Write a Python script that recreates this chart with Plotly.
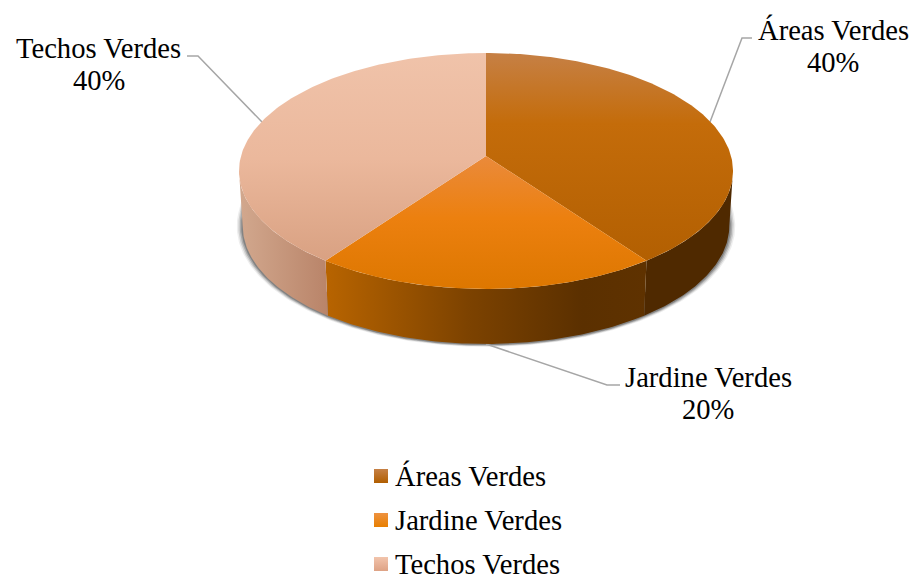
import numpy as np
import plotly.graph_objects as go

categories = ["Áreas Verdes", "Jardine Verdes", "Techos Verdes"]
values = [40, 20, 40]

# chart geometry (screen pixels), used by the projection below
CX, CY = 486, 156
AY, BP, AX = 116.1, 0.127, 245.0
DEPTH, BOTTOM_SCALE = 55, 0.985
Y_TOP, Y_BOT = 53, 289

top_scales = [
    [[0, "#c68045"], [0.3, "#c46c0a"], [1, "#af5d00"]],
    [[0, "#ee9a5a"], [0.44, "#ea8a3a"], [0.7, "#ec800f"], [1, "#dd7700"]],
    [[0, "#f0c3aa"], [0.45, "#ebb89c"], [0.9, "#d8a081"], [1, "#d8a081"]],
]
side_scales = [
    [[0, "#4f2900"], [1, "#4f2900"]],
    [[0, "#b86400"], [0.45, "#7c4200"], [0.8, "#5b3000"], [1, "#5f3200"]],
    [[0, "#d2a88e"], [1, "#b98469"]],
]
swatch_colors = [("#c68045", "#b15e00"), ("#ee9240", "#e87f00"), ("#f2c4ac", "#dea285")]

label_pos = [(833, 30), (708, 377), (98.5, 48)]
LABEL_DY = 32
leaders = [
    ([710, 742, 752], [122, 38, 38]),
    ([486, 607, 620], [344, 385, 385]),
    ([262, 198, 187], [122, 56, 56]),
]
LEG_X, LEG_Y0, LEG_DY = 381, 476, 44
FONT = dict(family="Liberation Serif", size=28.6, color="#000000")
shadow_steps = [(6.0, 2.5, 0.08), (4.5, 2.0, 0.15), (3.0, 1.5, 0.22), (1.5, 1.0, 0.30)]


def rim(deg, scale=1.0, dy=0.0):
    t = np.radians(deg)
    u, v = np.sin(t), np.cos(t)
    w = 1 + BP * v
    return CX + scale * AX * u / w, CY - AY * v / w + dy


total = sum(values)
edges = np.concatenate([[0], np.cumsum(values) / total * 360])
EXT_R = np.degrees(np.arccos(-BP))
EXT_L = 360 - EXT_R

fig = go.Figure()

# soft shadow round the lower silhouette
a = np.linspace(EXT_R - 6, EXT_L + 6, 200)
bx, by = rim(a, BOTTOM_SCALE, DEPTH)
tx, ty = rim(a[::-1], BOTTOM_SCALE, 32)
for gx, gy, alpha in shadow_steps:
    sx = CX + (bx - CX) * (1 + gx / AX)
    sy = by + (by - (CY + DEPTH)) * gy / AY
    fig.add_trace(go.Scatter(
        x=np.r_[sx, tx], y=np.r_[sy, ty], mode="lines", fill="toself",
        line=dict(width=0), fillcolor=f"rgba(40,40,40,{alpha})",
        hoverinfo="skip", showlegend=False))

# leader lines
for lx, ly in leaders:
    fig.add_trace(go.Scatter(x=lx, y=ly, mode="lines", line=dict(color="#a6a6a6", width=1.5),
                             hoverinfo="skip", showlegend=False))

# side walls
for i in range(len(values)):
    lo, hi = max(edges[i], EXT_R), min(edges[i + 1], EXT_L)
    if hi <= lo:
        continue
    a = np.linspace(lo, hi, 80)
    x1, y1 = rim(a)
    x2, y2 = rim(a[::-1], BOTTOM_SCALE, DEPTH)
    x, y = np.r_[x1, x2], np.r_[y1, y2]
    fig.add_trace(go.Scatter(
        x=x, y=y, mode="lines", fill="toself", line=dict(width=0), hoverinfo="skip", showlegend=False,
        fillgradient=dict(type="horizontal", colorscale=side_scales[i],
                          start=float(x.min()), stop=float(x.max()))))

# top faces
for i, name in enumerate(categories):
    a = np.linspace(edges[i], edges[i + 1], 160)
    x, y = rim(a)
    fig.add_trace(go.Scatter(
        x=np.r_[CX, x, CX], y=np.r_[CY, y, CY], mode="lines", fill="toself", line=dict(width=0),
        name=name, text=f"{values[i]}%", hoverinfo="name+text", showlegend=False,
        fillgradient=dict(type="vertical", colorscale=top_scales[i], start=Y_TOP, stop=Y_BOT)))

# legend rows
for i, name in enumerate(categories):
    ry = LEG_Y0 + i * LEG_DY
    fig.add_trace(go.Scatter(
        x=[LEG_X], y=[ry], mode="markers",
        marker=dict(symbol="square", size=14, color=swatch_colors[i][0],
                    gradient=dict(type="vertical", color=swatch_colors[i][1])),
        hoverinfo="skip", showlegend=False, cliponaxis=False))
    fig.add_annotation(x=LEG_X + 14, y=ry, text=name, showarrow=False, xanchor="left", yanchor="middle",
                       xshift=-1, borderpad=0, font=FONT)

for i, name in enumerate(categories):
    fig.add_annotation(x=label_pos[i][0], y=label_pos[i][1], text=name,
                       showarrow=False, xanchor="center", yanchor="middle", font=FONT)
    fig.add_annotation(x=label_pos[i][0], y=label_pos[i][1] + LABEL_DY,
                       text=f"{round(values[i] / total * 100)}%",
                       showarrow=False, xanchor="center", yanchor="middle", font=FONT)

fig.update_layout(
    width=916, height=574, margin=dict(l=0, r=0, t=0, b=0),
    paper_bgcolor="white", plot_bgcolor="white", showlegend=False,
    xaxis=dict(range=[0, 916], visible=False, fixedrange=True),
    yaxis=dict(range=[574, 0], visible=False, fixedrange=True),
)
fig.write_html("out.html", config=dict(displayModeBar=False),
               post_script="document.body.style.margin='0';document.body.style.overflow='hidden';")
